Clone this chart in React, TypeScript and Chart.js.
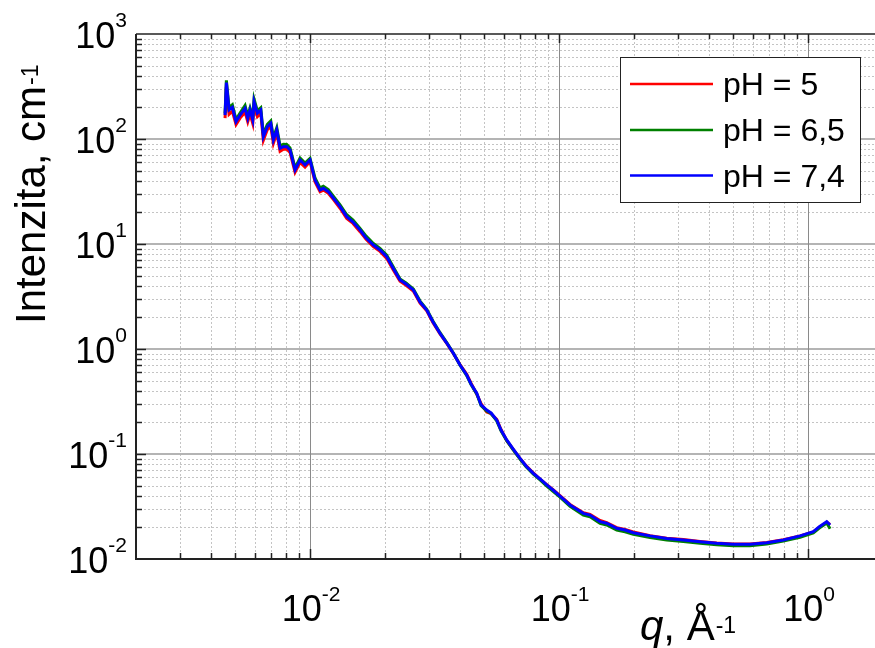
import React, { useEffect, useRef } from 'react';
import { Chart, registerables } from 'chart.js';

Chart.register(...registerables);

// ---------------- data ----------------
const qValues = [
  0.004557, 0.004613, 0.004729, 0.004875, 0.005044, 0.005235, 0.005483, 0.005621, 0.005741, 0.005887,
  0.005958, 0.006143, 0.006339, 0.006493, 0.006738, 0.006955, 0.007124, 0.007352, 0.007579, 0.007814,
  0.008061, 0.008311, 0.008706, 0.009117, 0.009548, 0.01, 0.01047, 0.01097, 0.01131, 0.01184,
  0.0124, 0.0132, 0.01404, 0.01488, 0.01588, 0.01679, 0.01796, 0.0191, 0.02032, 0.02154,
  0.02298, 0.0243, 0.02599, 0.02766, 0.02942, 0.03119, 0.03327, 0.0354, 0.03762, 0.04003,
  0.04259, 0.04432, 0.04672, 0.04862, 0.05124, 0.05332, 0.0562, 0.05848, 0.06166, 0.06536,
  0.06973, 0.07371, 0.07886, 0.0839, 0.08927, 0.09461, 0.1009, 0.1107, 0.1252, 0.1332,
  0.1461, 0.1554, 0.1705, 0.1841, 0.1988, 0.2321, 0.2707, 0.3156, 0.3685, 0.4298,
  0.5012, 0.5847, 0.6825, 0.7958, 0.9288, 1.05, 1.11, 1.189, 1.226,
];

const intensityPH5 = [
  158, 312, 172, 184, 137, 158, 180, 146, 174, 141,
  206, 163, 176, 97, 123, 132, 91, 114, 76.5, 80,
  80.5, 74.5, 48.2, 60, 54, 61, 39.2, 31.4, 32.6, 30.4,
  26.6, 21.9, 17.5, 15.7, 13.1, 11.1, 9.45, 8.5, 7.3, 5.72,
  4.42, 4.05, 3.56, 2.74, 2.31, 1.78, 1.39, 1.13, 0.905, 0.71,
  0.575, 0.472, 0.372, 0.302, 0.251, 0.242, 0.214, 0.171, 0.134, 0.111,
  0.0905, 0.0775, 0.066, 0.0575, 0.051, 0.0458, 0.0401, 0.0331, 0.0276, 0.0266,
  0.0233, 0.0222, 0.0199, 0.0191, 0.0181, 0.0167, 0.0158, 0.0153, 0.0147, 0.0142,
  0.0139, 0.0139, 0.0144, 0.0153, 0.0166, 0.0181, 0.0201, 0.0224, 0.0213,
];

const intensityPH65 = [
  176, 362, 199, 212, 153, 177, 209, 165, 197, 160,
  240, 186, 198, 111, 138, 149, 103, 128, 86, 89,
  88.5, 82, 53, 66, 59, 65.5, 42.5, 34.2, 35.5, 33,
  28.6, 23.6, 19, 16.9, 14.1, 11.9, 10.1, 9.1, 7.85, 6.1,
  4.65, 4.26, 3.73, 2.86, 2.39, 1.84, 1.43, 1.15, 0.915, 0.7,
  0.558, 0.458, 0.374, 0.288, 0.257, 0.243, 0.207, 0.166, 0.134, 0.11,
  0.0895, 0.0757, 0.0643, 0.0566, 0.0495, 0.0442, 0.0388, 0.0318, 0.0262, 0.0253,
  0.0219, 0.0211, 0.0189, 0.0182, 0.0172, 0.016, 0.0152, 0.0147, 0.0141, 0.0137,
  0.0134, 0.0134, 0.0139, 0.0148, 0.0161, 0.0177, 0.0197, 0.022, 0.0194,
];

const intensityPH74 = [
  169, 344, 189, 200, 146, 169, 196, 157, 189, 152,
  226, 176, 189, 105, 131, 141, 98, 122, 81.5, 84.5,
  84.5, 78.6, 50.7, 63.1, 56.6, 63.1, 40.7, 32.7, 33.9, 31.5,
  27.4, 22.7, 18.2, 16.2, 13.6, 11.4, 9.78, 8.77, 7.57, 5.91,
  4.54, 4.16, 3.65, 2.8, 2.35, 1.81, 1.41, 1.14, 0.91, 0.704,
  0.565, 0.464, 0.379, 0.293, 0.262, 0.246, 0.211, 0.169, 0.136, 0.112,
  0.091, 0.0769, 0.0655, 0.0578, 0.0507, 0.0454, 0.0398, 0.0327, 0.0272, 0.0262,
  0.0227, 0.0219, 0.0196, 0.0189, 0.0178, 0.0166, 0.0157, 0.0152, 0.0146, 0.0141,
  0.0138, 0.0138, 0.0143, 0.0152, 0.0166, 0.0182, 0.0203, 0.0227, 0.0211,
];

const seriesLabels = ['pH = 5', 'pH = 6,5', 'pH = 7,4'];
const seriesColors = ['#ff0000', '#008000', '#0000ff'];

const xMin = 0.002;
const xMax = 2;
const yMin = 0.01;
const yMax = 1000;
const xMajorTicks = [0.01, 0.1, 1];
const xTickExponents = ['-2', '-1', '0'];
const yMajorTicks = [0.01, 0.1, 1, 10, 100, 1000];
const yTickExponents = ['-2', '-1', '0', '1', '2', '3'];
const xTitleVar = 'q';
const xTitleUnit = ', Å';
const xTitleExp = '-1';
const yTitleText = 'Intenzita, cm';
const yTitleExp = '-1';

const FONT = '"Liberation Sans", Arial, Helvetica, sans-serif';

function logTicks(min: number, max: number) {
  const out: { v: number; major: boolean }[] = [];
  const k0 = Math.floor(Math.log10(min));
  const k1 = Math.ceil(Math.log10(max));
  for (let k = k0; k <= k1; k++) {
    for (let m = 1; m <= 9; m++) {
      const v = m * Math.pow(10, k);
      if (v >= min * 0.9999 && v <= max * 1.0001) out.push({ v, major: m === 1 });
    }
  }
  return out;
}

function drawPow(
  ctx: CanvasRenderingContext2D,
  exp: string,
  x: number,
  y: number,
  align: 'right' | 'center',
  baseSize: number,
  expSize: number,
  rise: number
) {
  ctx.textAlign = 'left';
  ctx.textBaseline = 'alphabetic';
  ctx.font = `${baseSize}px ${FONT}`;
  const wb = ctx.measureText('10').width;
  ctx.font = `${expSize}px ${FONT}`;
  const we = ctx.measureText(exp).width;
  const total = wb + we;
  const left = align === 'right' ? x - total : x - total / 2;
  ctx.font = `${baseSize}px ${FONT}`;
  ctx.fillText('10', left, y);
  ctx.font = `${expSize}px ${FONT}`;
  ctx.fillText(exp, left + wb, y - rise);
}

const decor = {
  id: 'decor',
  beforeDatasetsDraw(chart: any) {
    const { ctx, chartArea } = chart;
    const xs = chart.scales.x;
    const ys = chart.scales.y;
    const { left, right, top, bottom } = chartArea;
    ctx.save();
    ctx.strokeStyle = '#c4c4c4';
    ctx.lineWidth = 1;
    ctx.setLineDash([2, 2]);
    for (const t of logTicks(xMin, xMax)) {
      if (t.major) continue;
      const px = Math.round(xs.getPixelForValue(t.v)) + 0.5;
      if (px <= left + 1 || px >= right) continue;
      ctx.beginPath();
      ctx.moveTo(px, top);
      ctx.lineTo(px, bottom);
      ctx.stroke();
    }
    for (const t of logTicks(yMin, yMax)) {
      if (t.major) continue;
      const py = Math.round(ys.getPixelForValue(t.v)) + 0.5;
      if (py <= top + 1 || py >= bottom - 1) continue;
      ctx.beginPath();
      ctx.moveTo(left, py);
      ctx.lineTo(right, py);
      ctx.stroke();
    }
    ctx.setLineDash([]);
    ctx.strokeStyle = '#b4b4b4';
    ctx.lineWidth = 2;
    for (const v of yMajorTicks) {
      const py = Math.round(ys.getPixelForValue(v));
      if (py <= top + 1 || py >= bottom - 1) continue;
      ctx.beginPath();
      ctx.moveTo(left, py);
      ctx.lineTo(right, py);
      ctx.stroke();
    }
    ctx.strokeStyle = '#8a8a8a';
    ctx.lineWidth = 1;
    for (const v of xMajorTicks) {
      const px = Math.round(xs.getPixelForValue(v)) + 0.5;
      ctx.beginPath();
      ctx.moveTo(px, top);
      ctx.lineTo(px, bottom);
      ctx.stroke();
    }
    ctx.restore();
  },
  afterDatasetsDraw(chart: any) {
    const { ctx, chartArea } = chart;
    const xs = chart.scales.x;
    const ys = chart.scales.y;
    const { left, right, top, bottom } = chartArea;
    ctx.save();
    ctx.strokeStyle = '#222';
    ctx.lineWidth = 2;
    ctx.beginPath();
    ctx.moveTo(left, top);
    ctx.lineTo(left, bottom);
    ctx.lineTo(right, bottom);
    ctx.stroke();
    ctx.lineWidth = 1.5;
    ctx.beginPath();
    ctx.moveTo(left, top);
    ctx.lineTo(right, top);
    ctx.stroke();
    ctx.lineWidth = 1.5;
    for (const t of logTicks(xMin, xMax)) {
      const px = Math.round(xs.getPixelForValue(t.v)) + 0.5;
      if (px <= left + 1) continue;
      const len = t.major ? 10 : 6;
      ctx.beginPath();
      ctx.moveTo(px, bottom);
      ctx.lineTo(px, bottom - len);
      ctx.moveTo(px, top);
      ctx.lineTo(px, top + len - 1);
      ctx.stroke();
    }
    for (const t of logTicks(yMin, yMax)) {
      const py = Math.round(ys.getPixelForValue(t.v)) + 0.5;
      if (py <= top + 1 || py >= bottom - 1) continue;
      const len = t.major ? 10 : 6;
      ctx.beginPath();
      ctx.moveTo(left, py);
      ctx.lineTo(left + len, py);
      ctx.stroke();
    }
    ctx.fillStyle = '#000';
    yMajorTicks.forEach((v, i) => {
      const py = ys.getPixelForValue(v);
      drawPow(ctx, yTickExponents[i], 127, py + 14, 'right', 36, 21, 21);
    });
    xMajorTicks.forEach((v, i) => {
      const px = xs.getPixelForValue(v);
      drawPow(ctx, xTickExponents[i], px + 1, 621, 'center', 36, 21, 20);
    });
    ctx.textAlign = 'left';
    ctx.textBaseline = 'alphabetic';
    ctx.font = `italic 42px ${FONT}`;
    const xq = 640;
    ctx.fillText(xTitleVar, xq, 640);
    const wq = ctx.measureText(xTitleVar).width;
    ctx.font = `42px ${FONT}`;
    ctx.fillText(xTitleUnit, xq + wq, 640);
    const wu = ctx.measureText(xTitleUnit).width;
    ctx.font = `23px ${FONT}`;
    ctx.fillText(xTitleExp, xq + wq + wu + 1, 633);
    ctx.save();
    ctx.translate(45, 324);
    ctx.rotate(-Math.PI / 2);
    ctx.font = `42px ${FONT}`;
    ctx.fillText(yTitleText, 0, 0);
    const wy = ctx.measureText(yTitleText).width;
    ctx.font = `23px ${FONT}`;
    ctx.fillText(yTitleExp, wy + 1, -7);
    ctx.restore();
    const lx0 = 620.5, ly0 = 57.5, lx1 = 860.5, ly1 = 202.5;
    ctx.fillStyle = '#fff';
    ctx.fillRect(lx0, ly0, lx1 - lx0, ly1 - ly0);
    ctx.strokeStyle = '#222';
    ctx.lineWidth = 1;
    ctx.strokeRect(lx0, ly0, lx1 - lx0, ly1 - ly0);
    const rowsY = [84, 130, 175.5];
    chart.data.datasets.forEach((ds: any, i: number) => {
      const yy = rowsY[i];
      ctx.strokeStyle = ds.borderColor;
      ctx.lineWidth = 2.5;
      ctx.beginPath();
      ctx.moveTo(630, yy);
      ctx.lineTo(713, yy);
      ctx.stroke();
      ctx.fillStyle = '#000';
      ctx.font = `32px ${FONT}`;
      ctx.textAlign = 'left';
      ctx.textBaseline = 'alphabetic';
      ctx.fillText(ds.label, 723, yy + 11);
    });
    ctx.restore();
  },
};

export default function App() {
  const ref = useRef<HTMLCanvasElement | null>(null);
  useEffect(() => {
    if (!ref.current) return;
    const series = [intensityPH5, intensityPH65, intensityPH74];
    const chart = new Chart(ref.current, {
      type: 'line',
      data: {
        datasets: series.map((arr, i) => ({
          label: seriesLabels[i],
          data: qValues.map((q, j) => ({ x: q, y: arr[j] })),
          borderColor: seriesColors[i],
          backgroundColor: seriesColors[i],
          borderWidth: 3,
          pointRadius: 0,
          fill: false,
          tension: 0,
          order: 3 - i,
        })),
      },
      options: {
        responsive: false,
        animation: false,
        devicePixelRatio: 1,
        layout: { padding: { top: 34, left: 0, right: 0, bottom: 0 } },
        plugins: { legend: { display: false }, tooltip: { enabled: false } },
        scales: {
          x: {
            type: 'logarithmic',
            min: xMin,
            max: xMax,
            grid: { display: false },
            border: { display: false },
            ticks: { display: false },
            afterFit: (s: any) => {
              s.height = 89;
            },
          },
          y: {
            type: 'logarithmic',
            min: yMin,
            max: yMax,
            grid: { display: false },
            border: { display: false },
            ticks: { display: false },
            afterFit: (s: any) => {
              s.width = 136;
            },
          },
        },
      },
      plugins: [decor],
    } as any);
    return () => chart.destroy();
  }, []);
  return (
    <div
      style={{
        position: 'fixed',
        left: 0,
        top: 0,
        width: 875,
        height: 648,
        overflow: 'hidden',
        background: '#fff',
      }}
    >
      <canvas ref={ref} width={883} height={648} style={{ width: 883, height: 648, display: 'block' }} />
    </div>
  );
}
